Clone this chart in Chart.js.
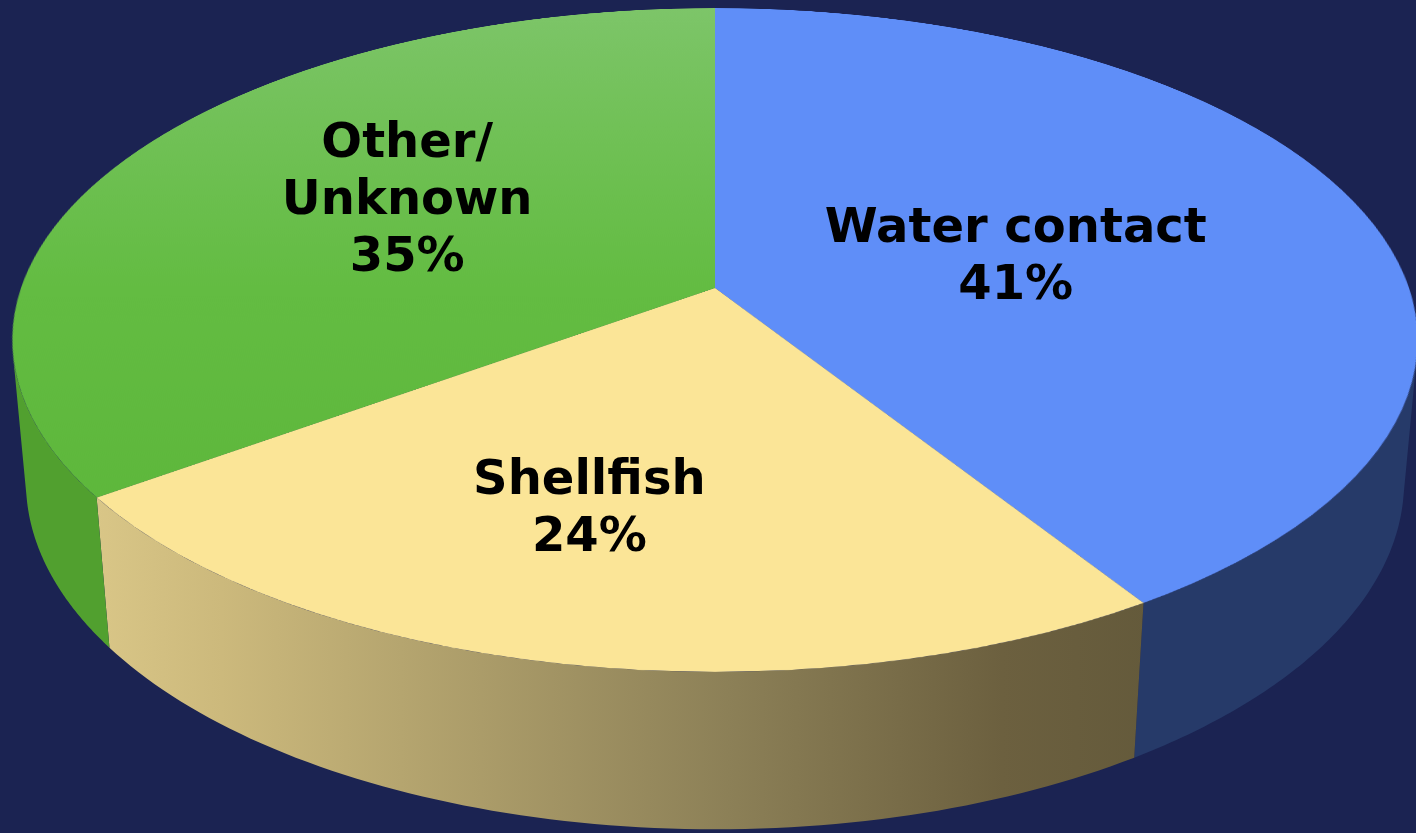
<!DOCTYPE html>
<html>
<head>
<meta charset="utf-8">
<script src="https://cdn.jsdelivr.net/npm/chart.js@4.4.1/dist/chart.umd.min.js"></script>
<style>
  html, body { margin: 0; padding: 0; background: #1b2352; overflow: hidden; }
  #stage { position: relative; width: 1416px; height: 833px; overflow: hidden; }
  #sides, #labels { position: absolute; left: 0; top: 0; }
  #topFace {
    position: absolute;
    transform-origin: 50% 50%;
  }
</style>
</head>
<body>
<div id="stage">
  <canvas id="sides" width="1416" height="833"></canvas>
  <canvas id="topFace" width="1400" height="1400"></canvas>
  <canvas id="labels" width="1416" height="833"></canvas>
</div>
<script>
// data
const categories = [['Water contact'], ['Shellfish'], ['Other/', 'Unknown']];
const shares = [41, 24, 35];
const topColors = ['#5f8ef8', '#fbe597', 'green'];
const sideColors = ['#263a69', 'yellow', '#51a02f'];

//---3d view (matches the css transform on the top canvas)
const SIZE = 1400;
const RADIUS = 694;
const PERSP = 3920;
const TILT = 62.2 * Math.PI / 180;
const DEPTH = 162;
const ORIGIN_X = 715;
const ORIGIN_Y = 288;
// how far out along each slice the label sits, plus a small turn (like excel does it)
const labelRadius = [0.45, 0.64, 0.54];
const labelTurn = 4 * Math.PI / 180;

let topCanvas = document.getElementById('topFace');
topCanvas.style.left = (ORIGIN_X - SIZE / 2) + 'px';
topCanvas.style.top = (ORIGIN_Y - SIZE / 2) + 'px';
topCanvas.style.transform = 'perspective(' + PERSP + 'px) rotateX(' + (TILT * 180 / Math.PI) + 'deg)';

// element coords (x right, y down, z to viewer) -> screen
function project(x, y, z) {
    let y2 = Math.cos(TILT) * y - Math.sin(TILT) * z;
    let z2 = Math.sin(TILT) * y + Math.cos(TILT) * z;
    let s = PERSP / (PERSP - z2);
    return [ORIGIN_X + x * s, ORIGIN_Y + y2 * s];
}

function greenTop(ctx) {
    let g = ctx.createLinearGradient(0, 0, 0, SIZE);
    g.addColorStop(0, '#7dc569');
    g.addColorStop(0.5, '#63bc42');
    g.addColorStop(1, '#5ab437');
    return g;
}

function yellowSide(ctx) {
    let g = ctx.createLinearGradient(95, 0, 1150, 0);
    g.addColorStop(0, '#d9c687');
    g.addColorStop(0.12, '#ccb97c');
    g.addColorStop(0.29, '#b5a56f');
    g.addColorStop(0.6, '#8c8057');
    g.addColorStop(0.86, '#6c603f');
    g.addColorStop(1, '#645a3b');
    return g;
}

//---side walls + labels, from the arcs chart.js laid out
const pie3d = {
    id: 'pie3d',
    afterDraw(chart) {
        let arcs = chart.getDatasetMeta(0).data;
        let side = document.getElementById('sides').getContext('2d');
        side.clearRect(0, 0, 1416, 833);

        arcs.forEach((arc, i) => {
            let cx = arc.x - SIZE / 2;
            let cy = arc.y - SIZE / 2;
            let r = arc.outerRadius;
            // only the part of the wall that faces the eye
            let eyeDist = PERSP * Math.sin(TILT);
            let edge = Math.PI / 2 - Math.acos(r / eyeDist);
            let a0 = Math.max(arc.startAngle, edge);
            let a1 = Math.min(arc.endAngle, Math.PI - edge);
            if (a0 >= a1) return;
            let steps = 80;
            side.beginPath();
            for (let k = 0; k <= steps; k++) {
                let a = a0 + (a1 - a0) * k / steps;
                let p = project(cx + r * Math.cos(a), cy + r * Math.sin(a), 0);
                if (k == 0) side.moveTo(p[0], p[1]); else side.lineTo(p[0], p[1]);
            }
            for (let k = steps; k >= 0; k--) {
                let a = a0 + (a1 - a0) * k / steps;
                let p = project(cx + r * Math.cos(a), cy + r * Math.sin(a), -DEPTH);
                side.lineTo(p[0], p[1]);
            }
            side.closePath();
            side.fillStyle = sideColors[i] == 'yellow' ? yellowSide(side) : sideColors[i];
            side.fill();
        });

        // labels
        let lab = document.getElementById('labels').getContext('2d');
        lab.clearRect(0, 0, 1416, 833);
        lab.font = 'bold 48px "DejaVu Sans", Verdana, sans-serif';
        lab.fillStyle = '#000000';
        lab.textAlign = 'center';
        lab.textBaseline = 'middle';
        let total = shares.reduce((a, b) => a + b, 0);
        const lineH = 57;
        arcs.forEach((arc, i) => {
            let mid = (arc.startAngle + arc.endAngle) / 2 + labelTurn;
            let r = arc.outerRadius * labelRadius[i];
            let p = project(arc.x - SIZE / 2 + r * Math.cos(mid), arc.y - SIZE / 2 + r * Math.sin(mid), 0);
            let lines = categories[i].concat([Math.round(shares[i] / total * 100) + '%']);
            let y0 = p[1] - (lines.length - 1) * lineH / 2;
            lines.forEach((t, k) => lab.fillText(t, p[0], y0 + k * lineH));
        });
    }
};

let ctx = topCanvas.getContext('2d');
let pieChart = new Chart(ctx, {
    type: 'pie',
    data: {
        labels: categories.map(c => c.join(' ')),
        datasets: [{
            data: shares,
            backgroundColor: topColors.map(c => c == 'green' ? greenTop(ctx) : c),
            borderWidth: 0,
            hoverOffset: 0
        }]
    },
    options: {
        responsive: false,
        animation: false,
        events: [],
        radius: RADIUS,
        layout: { padding: 0 },
        plugins: {
            legend: { display: false },
            tooltip: { enabled: false }
        }
    },
    plugins: [pie3d]
});
</script>
</body>
</html>
